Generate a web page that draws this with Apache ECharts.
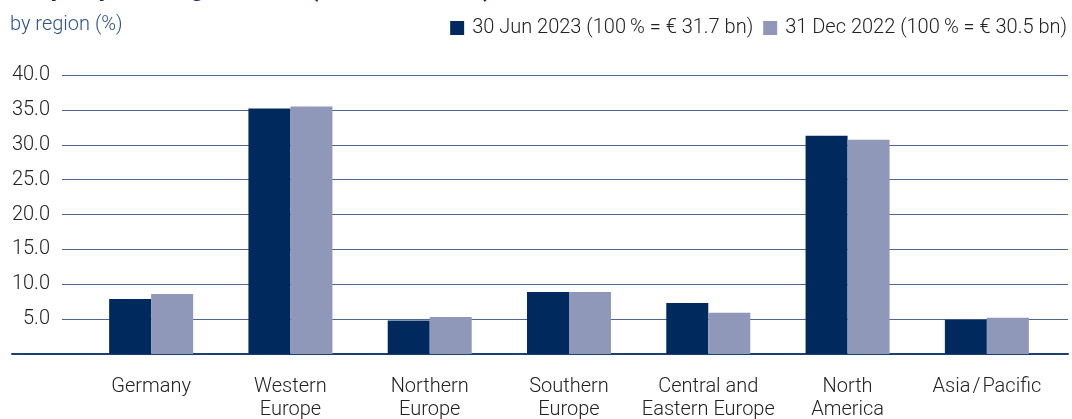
<!DOCTYPE html>
<html><head><meta charset="utf-8">
<script src="https://cdn.jsdelivr.net/npm/echarts@6/dist/echarts.min.js"></script>
<style>html,body{margin:0;padding:0;background:#fff}#c{width:1072px;height:419px}</style>
</head><body><div id="c"></div>
<script>
const categories = ["Germany","Western\nEurope","Northern\nEurope","Southern\nEurope","Central and\nEastern Europe","North\nAmerica","Asia\u200A/\u200APacific"];
const seriesNames = ["30 Jun 2023 (100\u2009% = \u20ac 31.7 bn)","31 Dec 2022 (100\u2009% = \u20ac 30.5 bn)"];
const jun2023 = [7.9, 35.2, 4.8, 8.9, 7.3, 31.3, 4.9];
const dec2022 = [8.6, 35.5, 5.3, 8.9, 5.9, 30.7, 5.2];
const yTicks = {min: 0, max: 40, interval: 5};

const FONT = 'Roboto';
const FS = 20;
const chart = echarts.init(document.getElementById('c'), null, {renderer: 'canvas'});
const gTop = 75, gBottom = 419 - 354;
const gridBase = {top: gTop, bottom: gBottom, containLabel: false, outerBoundsMode: 'none'};
chart.setOption({
  animation: false,
  textStyle: {fontFamily: FONT},
  graphic: [
    {type: 'text', x: 10, y: -24, style: {text: 'Property holdings overall (market values)', font: 'bold 26px ' + FONT, fill: '#0f2f66'}},
    {type: 'text', left: 10, top: 15, style: {text: 'by region (%)', font: '300 ' + FS + 'px ' + FONT, fill: '#2b5190'}}
  ],
  legend: {
    right: 0, top: 13, itemWidth: 14, itemHeight: 14, itemGap: 10,
    icon: 'rect',
    textStyle: {fontSize: FS, fontWeight: 300, color: '#222', fontFamily: FONT, padding: [0, 0, 0, 3]},
    data: seriesNames
  },
  grid: [
    Object.assign({left: 62, right: 4}, gridBase),
    Object.assign({left: 12, right: 4}, gridBase),
    Object.assign({left: 81.5, right: 1072 - 1056.5}, gridBase)
  ],
  xAxis: [
    {gridIndex: 0, type: 'category', data: categories, show: false},
    {gridIndex: 1, type: 'category', data: categories, axisLine: {show: true, lineStyle: {color: '#1d3f74', width: 2}}, axisTick: {show: false}, axisLabel: {show: false}},
    {gridIndex: 2, type: 'category', data: categories, axisLine: {show: false}, axisTick: {show: false},
     axisLabel: {fontSize: FS, fontWeight: 300, color: '#222', lineHeight: 23, margin: 21, interval: 0, fontFamily: FONT}}
  ],
  yAxis: [
    {gridIndex: 0, type: 'value', min: yTicks.min, max: yTicks.max, interval: yTicks.interval,
     axisLine: {show: false}, axisTick: {show: false},
     axisLabel: {fontSize: FS, fontWeight: 300, color: '#222', margin: 12, fontFamily: FONT,
       formatter: v => v === 0 ? '' : v.toFixed(1)},
     splitLine: {show: true, lineStyle: {color: '#4f6790', width: 1}}},
    {gridIndex: 1, type: 'value', min: yTicks.min, max: yTicks.max, interval: yTicks.interval, show: false, splitLine: {show: false}},
    {gridIndex: 2, type: 'value', min: yTicks.min, max: yTicks.max, interval: yTicks.interval, show: false, splitLine: {show: false}}
  ],
  series: [
    {name: seriesNames[0], type: 'bar', xAxisIndex: 2, yAxisIndex: 2, data: jun2023, barWidth: 42, barGap: '0%', itemStyle: {color: '#002a5e'}},
    {name: seriesNames[1], type: 'bar', xAxisIndex: 2, yAxisIndex: 2, data: dec2022, barWidth: 42, barGap: '0%', itemStyle: {color: '#8f98b9'}}
  ]
});
</script></body></html>
